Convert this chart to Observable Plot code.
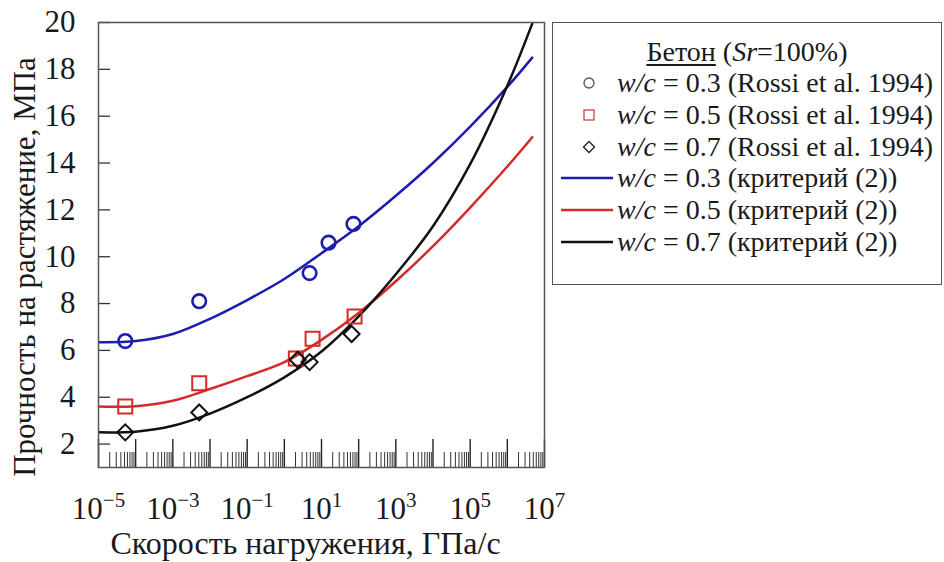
<!DOCTYPE html>
<html>
<head>
<meta charset="utf-8">
<script src="https://cdn.jsdelivr.net/npm/d3@7"></script>
<script src="https://cdn.jsdelivr.net/npm/@observablehq/plot@0.6"></script>
<style>
  html, body { margin: 0; padding: 0; background: #fff; }
  #wrap { position: relative; width: 944px; height: 562px; overflow: hidden; color: #1a1a1a; }
  #wrap, #wrap * { font-family: 'Liberation Serif', Tinos, 'Times New Roman', serif !important; }
  #wrap > svg { position: absolute; left: 0; top: 0; }
  #legend { position: absolute; left: 552px; top: 22px; width: 390px; height: 263px;
            box-sizing: border-box; border: 1.5px solid #555; font-size: 28px; }
  .lrow { position: absolute; left: 0; height: 32px; line-height: 32px; white-space: nowrap; }
  .lrow svg { position: absolute; left: 6px; top: 0; }
  .lrow span { position: absolute; left: 64px; top: 0; }
  .ltitle { position: absolute; left: 0; right: 0; text-align: center; height: 32px; line-height: 32px; white-space: nowrap; }
</style>
</head>
<body>
<div id="wrap"></div>
<script>
// ---- data ----
const logRate = [-5, -4, -3, -2, -1, 0, 1, 2, 3, 4, 5, 6, 6.67];
const fitWc03 = [6.35, 6.4, 6.7, 7.35, 8.15, 9.05, 10.15, 11.3, 12.6, 14.0, 15.55, 17.25, 18.5];
const fitWc05 = [3.6, 3.62, 3.85, 4.35, 4.9, 5.5, 6.45, 7.6, 8.95, 10.45, 12.1, 13.85, 15.1];
const fitWc07 = [2.5, 2.53, 2.78, 3.3, 4.0, 4.85, 5.95, 7.45, 9.25, 11.3, 13.95, 17.3, 19.95];

const expLog03 = [-4.28, -2.29, 0.68, 1.19, 1.86];
const expWc03  = [6.4, 8.1, 9.3, 10.6, 11.4];
const expLog05 = [-4.28, -2.29, 0.31, 0.76, 1.89];
const expWc05  = [3.6, 4.6, 5.65, 6.5, 7.45];
const expLog07 = [-4.28, -2.29, 0.36, 0.68, 1.81];
const expWc07  = [2.5, 3.35, 5.6, 5.5, 6.7];

const xLabelExponents = [-5, -3, -1, 1, 3, 5, 7];
const yTicks = [2, 4, 6, 8, 10, 12, 14, 16, 18, 20];
const xTitle = "Скорость нагружения, ГПа/с";
const yTitle = "Прочность на растяжение, МПа";

const legendTitleMain = "Бетон";
const legendTitleRest = "=100%)";
const legendSeries = [
  {kind: "circle",  wc: "0.3", src: "(Rossi et al. 1994)"},
  {kind: "square",  wc: "0.5", src: "(Rossi et al. 1994)"},
  {kind: "diamond", wc: "0.7", src: "(Rossi et al. 1994)"},
  {kind: "lineBlue",  wc: "0.3", src: "(критерий (2))"},
  {kind: "lineRed",   wc: "0.5", src: "(критерий (2))"},
  {kind: "lineBlack", wc: "0.7", src: "(критерий (2))"}
];

// ---- styles ----
const BLUE = "#1c1cae";
const RED = "#d42a2a";
const BLACK = "#111";
const FONT = "Liberation Serif, Tinos, Times New Roman, serif";

// ---- build tables ----
const toFit = vals => logRate.map((e, i) => ({rate: Math.pow(10, e), v: vals[i]}));
const toExp = (ls, vs) => ls.map((e, i) => ({rate: Math.pow(10, e), v: vs[i]}));
const fit03 = toFit(fitWc03), fit05 = toFit(fitWc05), fit07 = toFit(fitWc07);
const exp03 = toExp(expLog03, expWc03), exp05 = toExp(expLog05, expWc05), exp07 = toExp(expLog07, expWc07);

const xMajor = d3.range(-5, 8).map(e => Math.pow(10, e));
const xMinor = [];
for (let e = -5; e < 7; e++) for (let k = 2; k <= 9; k++) xMinor.push(k * Math.pow(10, e));
const xLabelTicks = xLabelExponents.map(e => Math.pow(10, e));

const mL = 98, mT = 22, mR = 400, mB = 95, W = 944, H = 562;
const frameW = W - mL - mR, frameH = H - mT - mB;

const plot = Plot.plot({
  width: W, height: H,
  marginLeft: mL, marginTop: mT, marginRight: mR, marginBottom: mB,
  style: {fontFamily: FONT, fontSize: "31px", color: "#1a1a1a", background: "transparent", overflow: "visible"},
  x: {type: "log", domain: [1e-5, 1e7], ticks: xLabelTicks,
      tickFormat: d => "10^" + Math.round(Math.log10(d)), tickSize: 0, tickPadding: 29, label: null},
  y: {domain: [1, 20], ticks: yTicks, tickSize: 0, tickPadding: 23, label: null},
  marks: [
    Plot.tickX(xMajor, {x: d => d, insetTop: frameH - 28, stroke: "#222", strokeWidth: 1.4}),
    Plot.tickX(xMinor, {x: d => d, insetTop: frameH - 15, stroke: "#333", strokeWidth: 1}),
    Plot.tickY(yTicks, {y: d => d, insetRight: frameW - 12, stroke: "#333", strokeWidth: 1.3}),
    Plot.line(fit03, {x: "rate", y: "v", stroke: BLUE, strokeWidth: 2.5, curve: "catmull-rom", clip: true}),
    Plot.line(fit05, {x: "rate", y: "v", stroke: RED, strokeWidth: 2.5, curve: "catmull-rom", clip: true}),
    Plot.line(fit07, {x: "rate", y: "v", stroke: BLACK, strokeWidth: 2.5, curve: "catmull-rom", clip: true}),
    Plot.dot(exp03, {x: "rate", y: "v", symbol: "circle", r: 6.8, fill: "none", stroke: BLUE, strokeWidth: 2.6}),
    Plot.dot(exp05, {x: "rate", y: "v", symbol: "square", r: 7.9, fill: "none", stroke: RED, strokeWidth: 2}),
    Plot.dot(exp07, {x: "rate", y: "v", symbol: "diamond2", r: 7.2, fill: "none", stroke: BLACK, strokeWidth: 2}),
    Plot.frame({stroke: "#555", strokeWidth: 1.5}),
    Plot.text([xTitle], {text: d => d, frameAnchor: "bottom", textAnchor: "middle", lineAnchor: "middle", dy: 76, dx: -16, fontSize: 32, fill: "#1a1a1a"}),
    Plot.text([yTitle], {text: d => d, frameAnchor: "left", textAnchor: "middle", lineAnchor: "middle", rotate: -90, dx: -73, dy: 22, fontSize: 31, fill: "#1a1a1a"})
  ]
});

// superscript exponents for x tick labels
d3.select(plot).selectAll("text").each(function () {
  const t = this.textContent;
  if (/^10\^/.test(t)) {
    const exp = t.slice(3).replace("-", "\u2212");
    const sel = d3.select(this);
    sel.text(null);
    sel.append("tspan").text("10");
    sel.append("tspan").attr("font-size", "21px").attr("dy", "-12px").text(exp);
  }
});

const wrap = document.getElementById("wrap");
wrap.appendChild(plot);

// ---- legend ----
const legend = document.createElement("div");
legend.id = "legend";
const rowTop0 = 12.5, rowStep = 31.7;
const title = document.createElement("div");
title.className = "ltitle";
title.style.top = rowTop0 + "px";
title.innerHTML = `<span style="text-decoration:underline;text-underline-offset:3px">${legendTitleMain}</span> (<i>Sr</i>${legendTitleRest}`;
legend.appendChild(title);

legendSeries.forEach((s, i) => {
  const row = document.createElement("div");
  row.className = "lrow";
  row.style.top = (rowTop0 + rowStep * (i + 1)) + "px";
  let sym = "";
  if (s.kind === "circle") sym = `<circle cx="30" cy="16" r="5" fill="none" stroke="#555" stroke-width="1.3"/>`;
  if (s.kind === "square") sym = `<rect x="25" y="11" width="10" height="10" fill="none" stroke="#c44" stroke-width="1.3"/>`;
  if (s.kind === "diamond") sym = `<path d="M30,10.5L35.5,16L30,21.5L24.5,16Z" fill="none" stroke="#222" stroke-width="1.4"/>`;
  const lc = {lineBlue: BLUE, lineRed: RED, lineBlack: BLACK}[s.kind];
  if (lc) sym = `<line x1="2" x2="54" y1="16" y2="16" stroke="${lc}" stroke-width="2.6"/>`;
  row.innerHTML = `<svg width="58" height="32">${sym}</svg><span><i>w/c</i> = ${s.wc} ${s.src}</span>`;
  legend.appendChild(row);
});
wrap.appendChild(legend);
</script>
</body>
</html>
